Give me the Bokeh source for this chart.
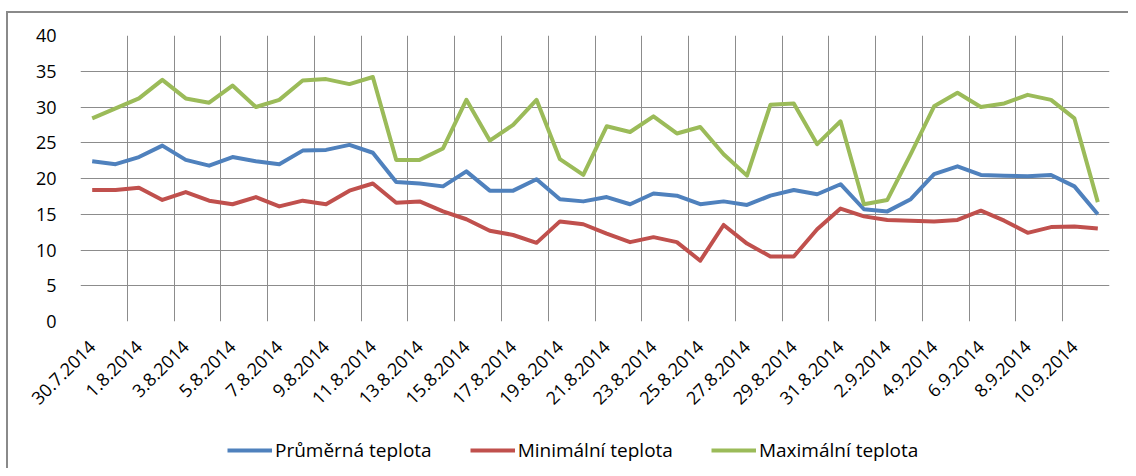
from math import pi
from bokeh.plotting import figure
from bokeh.layouts import column
from bokeh.models import Range1d, FixedTicker, Grid, Legend, LegendItem
from bokeh.embed import file_html
from bokeh.resources import INLINE

dates = ["30.7.2014", "31.7.2014",
         "1.8.2014", "2.8.2014", "3.8.2014", "4.8.2014", "5.8.2014", "6.8.2014",
         "7.8.2014", "8.8.2014", "9.8.2014", "10.8.2014", "11.8.2014", "12.8.2014",
         "13.8.2014", "14.8.2014", "15.8.2014", "16.8.2014", "17.8.2014", "18.8.2014",
         "19.8.2014", "20.8.2014", "21.8.2014", "22.8.2014", "23.8.2014", "24.8.2014",
         "25.8.2014", "26.8.2014", "27.8.2014", "28.8.2014", "29.8.2014", "30.8.2014",
         "31.8.2014", "1.9.2014", "2.9.2014", "3.9.2014", "4.9.2014", "5.9.2014",
         "6.9.2014", "7.9.2014", "8.9.2014", "9.9.2014", "10.9.2014", "11.9.2014"]

prumerna = [22.4, 22.0, 23.0, 24.6, 22.6, 21.8, 23.0, 22.4, 22.0, 23.9, 24.0, 24.7,
            23.6, 19.5, 19.3, 18.9, 21.0, 18.3, 18.3, 19.9, 17.1, 16.8, 17.4, 16.4,
            17.9, 17.6, 16.4, 16.8, 16.3, 17.6, 18.4, 17.8, 19.2, 15.7, 15.4, 17.1,
            20.6, 21.7, 20.5, 20.4, 20.3, 20.5, 18.9, 15.0]

minimalni = [18.4, 18.4, 18.7, 17.0, 18.1, 16.9, 16.4, 17.4, 16.1, 16.9, 16.4, 18.3,
             19.3, 16.6, 16.8, 15.4, 14.3, 12.7, 12.1, 11.0, 14.0, 13.6, 12.3, 11.1,
             11.8, 11.1, 8.5, 13.5, 10.9, 9.1, 9.1, 12.9, 15.8, 14.7, 14.2, 14.1,
             14.0, 14.2, 15.5, 14.1, 12.4, 13.2, 13.3, 13.0]

maximalni = [28.4, 29.8, 31.2, 33.8, 31.2, 30.6, 33.0, 30.0, 31.0, 33.7, 33.9, 33.2,
             34.2, 22.6, 22.6, 24.2, 31.0, 25.3, 27.5, 31.0, 22.7, 20.5, 27.3, 26.5,
             28.7, 26.3, 27.2, 23.4, 20.4, 30.3, 30.5, 24.8, 28.0, 16.4, 17.0, 23.4,
             30.1, 32.0, 30.0, 30.5, 31.7, 31.0, 28.4, 16.7]

series_names = ["Průměrná teplota", "Minimální teplota", "Maximální teplota"]
colors = ["#4F81BD", "#C0504D", "#9BBB59"]
y_ticks = [0, 5, 10, 15, 20, 25, 30, 35, 40]

n = len(dates)
xs = list(range(n))
series = [prumerna, minimalni, maximalni]
FONT = "Open Sans"
GRID = "#8c8c8c"

p = figure(width=1120, height=412, x_range=Range1d(-0.5, n - 0.5), y_range=Range1d(0, 40),
           output_backend="svg", toolbar_location=None,
           min_border_left=72, min_border_right=19, min_border_top=22, min_border_bottom=104)
p.outline_line_color = None
p.background_fill_color = "white"
p.border_fill_color = "white"

# grids
p.xgrid.visible = False
p.ygrid.ticker = FixedTicker(ticks=y_ticks)
p.ygrid.grid_line_color = GRID
p.ygrid.grid_line_width = 1
xg = Grid(dimension=0, ticker=FixedTicker(ticks=[i - 0.5 for i in range(0, n + 1, 2)]),
          grid_line_color=GRID, grid_line_width=1)
p.add_layout(xg)

# y axis
p.yaxis.ticker = FixedTicker(ticks=y_ticks)
p.yaxis.axis_line_color = None
p.yaxis.major_tick_line_color = None
p.yaxis.minor_tick_line_color = None
p.yaxis.major_label_standoff = 18
p.yaxis.major_label_text_font = FONT
p.yaxis.major_label_text_font_size = "18px"
p.yaxis.major_label_text_color = "#000000"

# x axis
label_idx = list(range(0, n, 2))
p.xaxis.ticker = FixedTicker(ticks=label_idx)
p.xaxis.major_label_overrides = {i: dates[i] for i in label_idx}
p.xaxis.major_label_orientation = pi / 4
p.xaxis.axis_line_color = None
p.xaxis.major_tick_line_color = None
p.xaxis.minor_tick_line_color = None
p.xaxis.major_label_standoff = 16
p.xaxis.major_label_text_font = FONT
p.xaxis.major_label_text_font_size = "18px"
p.xaxis.major_label_text_color = "#000000"

for vals, col in zip(series, colors):
    p.line(xs, vals, line_color=col, line_width=4, line_join="round")

# legend strip: same series drawn outside its visible range, used only as legend keys
pl = figure(width=1120, height=43, x_range=Range1d(0, 1), y_range=Range1d(1000, 1001),
            output_backend="svg", toolbar_location=None,
            min_border_left=0, min_border_right=0, min_border_top=0, min_border_bottom=0)
pl.axis.visible = False
pl.grid.visible = False
pl.outline_line_color = None
pl.border_fill_color = "white"
items = []
for name, vals, col in zip(series_names, series, colors):
    r = pl.line(xs, vals, line_color=col, line_width=4)
    items.append(LegendItem(label=name, renderers=[r]))
legend = Legend(items=items, orientation="horizontal", location=(147, 5),
                border_line_color=None, background_fill_alpha=0,
                label_text_font=FONT, label_text_font_size="19px",
                label_text_color="#000000", glyph_width=45, label_standoff=3,
                spacing=38, margin=0, padding=4)
pl.add_layout(legend)

layout = column(p, pl, spacing=0,
                styles={"margin-left": "6px", "margin-top": "11px",
                        "border-top": "2px solid #8a8a8a",
                        "border-left": "2px solid #8a8a8a"})

open("out.html", "w").write(file_html(layout, INLINE))
